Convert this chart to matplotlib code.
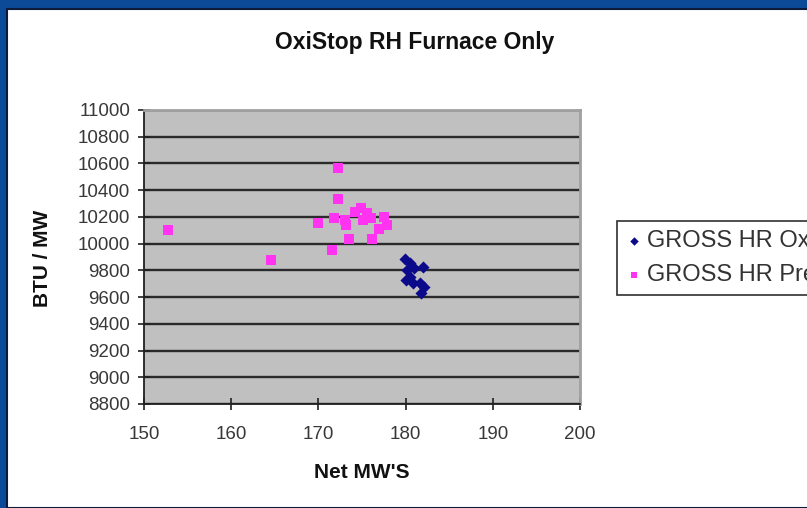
import matplotlib
matplotlib.use("Agg")
import matplotlib.pyplot as plt
from matplotlib.patches import Rectangle

# ---- data ----
title = "OxiStop RH Furnace Only"
x_label = "Net MW'S"
y_label = "BTU / MW"
series_names = ["GROSS HR OxiStop", "GROSS HR Pre OxiStop"]

oxi_mw = [179.9, 180.5, 180.2, 181.0, 182.0, 180.5, 180.0, 180.9, 181.6, 182.1, 181.8]
oxi_hr = [9885, 9855, 9802, 9817, 9825, 9750, 9728, 9705, 9705, 9675, 9630]

pre_mw = [152.8, 164.6, 172.3, 172.3, 169.9, 171.6, 173.5, 176.1, 177.0, 177.5,
          173.2, 171.8, 174.2, 174.9, 175.6, 175.1, 176.0, 177.9, 173.0]
pre_hr = [10102, 9877, 10564, 10332, 10156, 9952, 10032, 10032, 10107, 10201,
          10139, 10192, 10237, 10266, 10229, 10177, 10192, 10140, 10180]

x_ticks = [150, 160, 170, 180, 190, 200]
y_ticks = list(range(8800, 11001, 200))

# ---- figure ----
W, H = 807, 508
fig = plt.figure(figsize=(W / 100, H / 100), dpi=100)
fig.patch.set_facecolor("#0b4a97")
fig.patches.append(Rectangle((7 / W, 0), 1, 1 - 9 / H, transform=fig.transFigure,
                             facecolor="white", edgecolor="#0d1a3a", linewidth=1.5,
                             zorder=-5))

ax = fig.add_axes([144 / W, 1 - 404 / H, 436 / W, 294 / H])
ax.set_zorder(2)
ax.set_facecolor("#c0c0c0")

ax.scatter(oxi_mw, oxi_hr, marker="D", s=38, color="#0a0a8a", zorder=3,
           label=series_names[0], linewidths=0)
ax.scatter(pre_mw, pre_hr, marker="s", s=48, color="#ff33f0", zorder=3,
           label=series_names[1], linewidths=0)

ax.set_xlim(150, 200)
ax.set_ylim(8800, 11000)
ax.set_xticks(x_ticks)
ax.set_yticks(y_ticks)
ax.set_axisbelow(True)
ax.yaxis.grid(True, color="#2a2a2a", linewidth=1.7)
ax.xaxis.grid(False)

for s in ["top", "right"]:
    ax.spines[s].set_color("#a0a0a0")
    ax.spines[s].set_linewidth(2)
for s in ["left", "bottom"]:
    ax.spines[s].set_color("#202020")
    ax.spines[s].set_linewidth(1.3)

ax.tick_params(axis="both", direction="inout", length=8, width=1.2, color="#202020",
               labelcolor="#383838", labelsize=13.5)
ax.tick_params(axis="y", pad=6)
ax.tick_params(axis="x", pad=12)
for lab in ax.get_xticklabels() + ax.get_yticklabels():
    lab.set_fontfamily(["Liberation Sans", "DejaVu Sans"])

label_font = ["Liberation Sans Narrow", "Liberation Sans", "DejaVu Sans"]
fig.text(415 / W, 1 - 42 / H, title, ha="center", va="center", fontsize=16.5,
         fontweight="bold", family=["Liberation Sans", "DejaVu Sans"], color="#111111")
fig.text(362 / W, 1 - 472 / H, x_label, ha="center", va="center", fontsize=15,
         fontweight="bold", family=label_font, color="#111111")
fig.text(42 / W, 1 - 258 / H, y_label, ha="center", va="center", fontsize=15,
         fontweight="bold", family=label_font, color="#111111", rotation=90)

leg = fig.legend(loc="upper left", bbox_to_anchor=(617 / W, 1 - 221 / H),
                 bbox_transform=fig.transFigure, frameon=True, fancybox=False,
                 edgecolor="#303030", facecolor="white", framealpha=1,
                 prop={"family": ["Liberation Sans", "DejaVu Sans"], "size": 17},
                 handletextpad=0.2, handlelength=0.7, borderpad=0.38,
                 labelspacing=0.5, markerscale=0.7, borderaxespad=0)
leg.set_zorder(3)
leg.get_frame().set_linewidth(1.2)
for t in leg.get_texts():
    t.set_color("#333333")

fig.savefig("out.png", dpi=100, facecolor=fig.get_facecolor())
